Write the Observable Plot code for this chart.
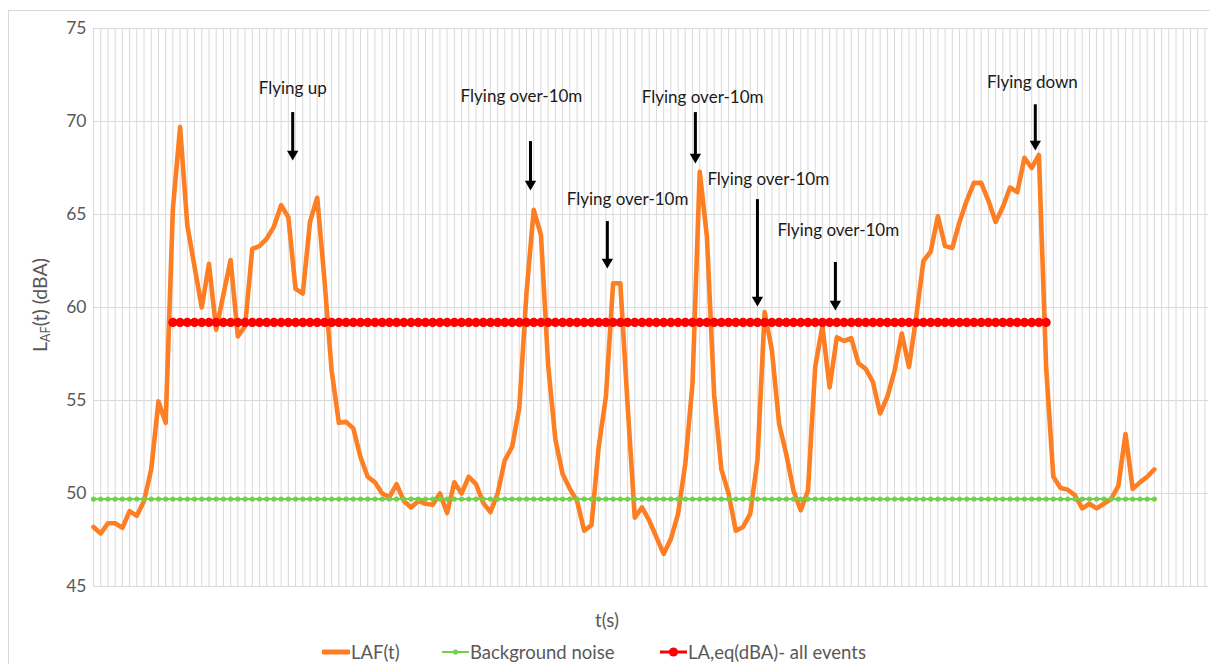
<!DOCTYPE html>
<html><head><meta charset="utf-8">
<script src="https://cdn.jsdelivr.net/npm/d3@7"></script>
<script src="https://cdn.jsdelivr.net/npm/@observablehq/plot@0.6"></script>
<style>
body{margin:0;background:#fff;font-family:Lato,"Open Sans",sans-serif;}
#wrap{position:relative;width:1210px;height:664px;overflow:hidden;background:#fff;}
#frame{position:absolute;left:8px;top:10px;width:1230px;height:720px;border:1px solid #d9d9d9;box-sizing:border-box;}
#chart{position:absolute;left:0;top:0;}
#ytitle{position:absolute;left:40px;top:305px;transform:translate(-50%,-50%) rotate(-90deg);font-size:19.5px;color:#595959;white-space:nowrap;}
#ytitle sub{font-size:12.5px;vertical-align:-3px;}
#xtitle{position:absolute;left:607px;top:620px;transform:translate(-50%,-50%);font-size:18.5px;color:#595959;}
.leg{position:absolute;top:652px;transform:translateY(-50%);display:flex;align-items:center;font-size:18.5px;line-height:20px;color:#595959;white-space:nowrap;}
.leg svg{margin-right:1px;}
</style></head>
<body>
<div id="wrap">
  <div id="frame"></div>
  <div id="chart"></div>
  <div id="ytitle">L<sub>AF</sub>(t) (dBA)</div>
  <div id="xtitle">t(s)</div>
</div>
<script>
// LAF(t) values, one per time step (dBA)
const lafValues = [
  48.2, 47.85, 48.4, 48.4, 48.15, 49.05, 48.8, 49.6, 51.3, 54.95,
  53.8, 65.3, 69.7, 64.4, 62.2, 60.0, 62.35, 58.8, 60.7, 62.55,
  58.45, 59.0, 63.15, 63.3, 63.7, 64.35, 65.5, 64.85, 61.0, 60.75,
  64.6, 65.9, 61.5, 56.6, 53.8, 53.85, 53.5, 51.95, 50.9, 50.6,
  50.0, 49.8, 50.5, 49.6, 49.25, 49.6, 49.45, 49.4, 50.0, 48.95,
  50.6, 50.0, 50.9, 50.5, 49.5, 49.0, 50.0, 51.8, 52.5, 54.6,
  60.8, 65.25, 63.9, 56.9, 52.9, 51.05, 50.25, 49.6, 48.0, 48.3,
  52.5, 55.2, 61.3, 61.3, 54.8, 48.7, 49.25, 48.55, 47.65, 46.75,
  47.55, 48.9, 51.6, 55.9, 67.3, 63.8, 55.3, 51.3, 50.0, 48.0,
  48.2, 48.9, 51.8, 59.75, 57.7, 53.75, 52.1, 50.15, 49.1, 50.15,
  56.8, 59.0, 55.7, 58.4, 58.2, 58.35, 57.0, 56.7, 56.0, 54.3,
  55.2, 56.6, 58.6, 56.8, 59.5, 62.5, 63.0, 64.9, 63.3, 63.2,
  64.6, 65.75, 66.7, 66.7, 65.75, 64.6, 65.4, 66.45, 66.2, 68.05,
  67.5, 68.2, 56.8, 50.9, 50.3, 50.2, 49.9, 49.2, 49.45, 49.2,
  49.45, 49.7, 50.4, 53.2, 50.25, 50.6, 50.9, 51.3
];
// Background noise level (dBA), drawn over the same time steps as LAF(t)
const backgroundLevel = 49.7;
// LA,eq of all events (dBA) and the time steps it spans
const laeqLevel = 59.2;
const laeqFirstStep = 11;
const laeqLastStep = 132;
// Axis
const yTicks = [45, 50, 55, 60, 65, 70, 75];
const categoryCount = 155;
// Annotations: label, label position (step, dBA), arrow (step, from dBA, to dBA)
const annLabels = ["Flying up", "Flying over-10m", "Flying over-10m", "Flying over-10m", "Flying over-10m", "Flying over-10m", "Flying down"];
const annLabelStep = [27.6, 59.3, 74.0, 84.4, 93.5, 103.2, 130.1];
const annLabelLevel = [71.77, 71.34, 65.8, 71.3, 66.9, 64.14, 72.1];
const annArrowStep = [27.6, 60.55, 71.2, 83.4, 92.0, 102.8, 130.5];
const annArrowFrom = [70.48, 68.92, 64.62, 70.48, 65.8, 62.42, 70.9];
const annArrowTo = [67.9, 66.29, 62.1, 67.74, 60.05, 59.84, 68.44];
// Legend
const legendLabels = ["LAF(t)", "Background noise", "LA,eq(dBA)- all events"];
const legendLeft = [322, 442, 660];

const ORANGE = "#fd7e23", GREEN = "#72d04a", RED = "#ff0000";

const laf = lafValues.map((v, i) => ({t: i, v}));
const bg = lafValues.map((_, i) => ({t: i, v: backgroundLevel}));
const laeq = lafValues.map((_, i) => ({t: i, v: laeqLevel})).filter(d => d.t >= laeqFirstStep && d.t <= laeqLastStep);
const ann = annLabels.map((label, i) => ({label, lx: annLabelStep[i], ly: annLabelLevel[i], ax: annArrowStep[i], a1: annArrowFrom[i], a2: annArrowTo[i]}));

const chart = Plot.plot({
  width: 1210, height: 600,
  marginTop: 28, marginBottom: 14, marginLeft: 93, marginRight: 2,
  x: {domain: [0, categoryCount - 0.5], axis: null},
  y: {domain: [45, 75]},
  style: {fontFamily: "Lato, 'Open Sans', sans-serif", fontSize: "17.5px", color: "#595959", background: "transparent", overflow: "visible"},
  marks: [
    Plot.ruleX(d3.range(categoryCount), {stroke: "#d9d9d9", strokeWidth: 1, strokeOpacity: 1}),
    Plot.ruleY(yTicks, {stroke: "#d9d9d9", strokeWidth: 1}),
    Plot.axisY(yTicks, {tickSize: 0, tickPadding: 7, label: null, fill: "#595959"}),
    Plot.line(laf, {x: "t", y: "v", stroke: ORANGE, strokeWidth: 4.6, strokeLinejoin: "round", strokeLinecap: "round"}),
    Plot.line(bg, {x: "t", y: "v", stroke: GREEN, strokeWidth: 2}),
    Plot.dot(bg, {x: "t", y: "v", r: 2.6, fill: GREEN}),
    Plot.line(laeq, {x: "t", y: "v", stroke: RED, strokeWidth: 3}),
    Plot.dot(laeq, {x: "t", y: "v", r: 4.6, fill: RED}),
    Plot.text(ann, {x: "lx", y: "ly", text: "label", fill: "#1a1a1a", fontSize: 17, textAnchor: "middle"}),
    Plot.ruleX(ann, {x: "ax", y1: "a1", y2: "a2", stroke: "#000", strokeWidth: 3, insetBottom: 7}),
    Plot.dot(ann, {x: "ax", y: "a2", symbol: "triangle", rotate: 180, r: 4.2, fill: "#000", stroke: "none", dy: -6.5})
  ]
});
document.getElementById("chart").appendChild(chart);

// Legend (HTML, below the plot)
const swatches = [
  `<svg width="28" height="12"><line x1="1" y1="6" x2="27" y2="6" stroke="${ORANGE}" stroke-width="5" stroke-linecap="round"/></svg>`,
  `<svg width="27" height="12"><line x1="0" y1="6" x2="27" y2="6" stroke="${GREEN}" stroke-width="2"/><circle cx="13.5" cy="6" r="2.6" fill="${GREEN}"/></svg>`,
  `<svg width="27" height="12"><line x1="0" y1="6" x2="27" y2="6" stroke="${RED}" stroke-width="3"/><circle cx="13.5" cy="6" r="4.6" fill="${RED}"/></svg>`
];
const wrap = document.getElementById("wrap");
legendLabels.forEach((lab, i) => {
  const d = document.createElement("div");
  d.className = "leg";
  d.style.left = legendLeft[i] + "px";
  d.innerHTML = swatches[i] + `<span>${lab}</span>`;
  wrap.appendChild(d);
});
</script>
</body></html>
